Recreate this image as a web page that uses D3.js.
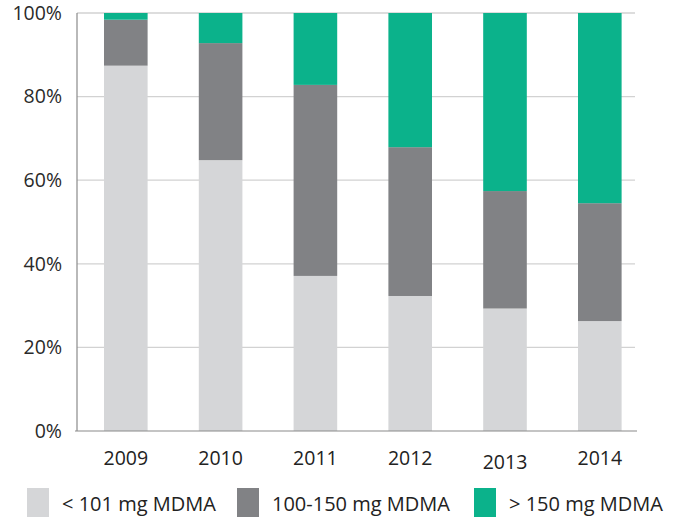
<!DOCTYPE html>
<html>
<head>
<meta charset="utf-8">
<script src="https://cdn.jsdelivr.net/npm/d3@7"></script>
<style>
  body { margin: 0; background: #fff; }
  svg { display: block; font-family: "Open Sans", "Noto Sans", sans-serif; }
</style>
</head>
<body>
<div id="chart"></div>
<script>
// data (percent of samples)
const years = ["2009", "2010", "2011", "2012", "2013", "2014"];
const low = [87.4, 64.8, 37.1, 32.3, 29.3, 26.3];
const mid = [11.0, 28.0, 45.7, 35.6, 28.1, 28.2];
const high = [1.6, 7.2, 17.2, 32.1, 42.6, 45.5];
const seriesNames = ["< 101 mg MDMA", "100-150 mg MDMA", "> 150 mg MDMA"];
const yTicks = [0, 20, 40, 60, 80, 100];

const colors = ["#d5d6d8", "#818285", "#0bb28b"];

const width = 673, height = 517;
const svg = d3.select("#chart").append("svg")
    .attr("width", width)
    .attr("height", height);

const plot = { left: 77, right: 635, top: 13, bottom: 431 };

const x = d3.scaleBand()
    .domain(years)
    .range([78.4, 647.2])
    .paddingInner(0.54)
    .paddingOuter(0.27);

const y = d3.scaleLinear()
    .domain([0, 100])
    .range([plot.bottom, plot.top]);

// gridlines
svg.append("g")
    .selectAll("line")
    .data(yTicks.filter(d => d > 0))
    .join("line")
    .attr("x1", plot.left)
    .attr("x2", plot.right)
    .attr("y1", d => y(d))
    .attr("y2", d => y(d))
    .attr("stroke", "#d2d2d2")
    .attr("stroke-width", 1.3);

// stacked bars
const table = years.map((yr, i) => ({ year: yr, low: low[i], mid: mid[i], high: high[i] }));
const stack = d3.stack().keys(["low", "mid", "high"])(table);

svg.append("g")
    .selectAll("g")
    .data(stack)
    .join("g")
    .attr("fill", (d, i) => colors[i])
    .selectAll("rect")
    .data(d => d)
    .join("rect")
    .attr("x", d => x(d.data.year))
    .attr("width", x.bandwidth())
    .attr("y", d => y(Math.min(d[1], 100)))
    .attr("height", d => y(d[0]) - y(Math.min(d[1], 100)));

// axes lines
svg.append("line")
    .attr("x1", plot.left).attr("x2", plot.left)
    .attr("y1", plot.top).attr("y2", plot.bottom)
    .attr("stroke", "#8a8a8a").attr("stroke-width", 1.2);
svg.append("line")
    .attr("x1", plot.left - 2).attr("x2", plot.right + 2)
    .attr("y1", plot.bottom).attr("y2", plot.bottom)
    .attr("stroke", "#8a8a8a").attr("stroke-width", 1.2);

// y tick labels
svg.append("g")
    .selectAll("text")
    .data(yTicks)
    .join("text")
    .attr("x", 62)
    .attr("y", d => y(d))
    .attr("dy", "0.35em")
    .attr("text-anchor", "end")
    .attr("font-size", 19.5)
    .attr("fill", "#2a2a2a")
    .text(d => d + "%");

// x tick labels (2013 sits a bit lower in the original)
svg.append("g")
    .selectAll("text")
    .data(years)
    .join("text")
    .attr("x", d => x(d) + x.bandwidth() / 2)
    .attr("y", d => d === "2013" ? 469 : 465)
    .attr("text-anchor", "middle")
    .attr("font-size", 19.5)
    .attr("fill", "#222")
    .text(d => d);

// legend
const legendX = [27, 237, 474];
const legend = svg.append("g")
    .selectAll("g")
    .data(seriesNames)
    .join("g")
    .attr("transform", (d, i) => `translate(${legendX[i]},488)`);
legend.append("rect")
    .attr("width", 22)
    .attr("height", 30)
    .attr("fill", (d, i) => colors[i]);
legend.append("text")
    .attr("x", 35)
    .attr("y", 23)
    .attr("font-size", 20)
    .attr("fill", "#222")
    .text(d => d);
</script>
</body>
</html>
